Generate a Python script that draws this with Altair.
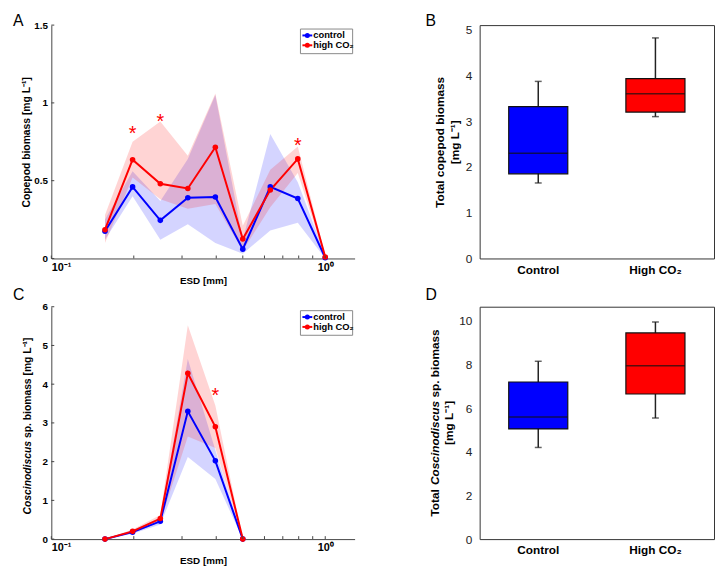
import altair as alt
import pandas as pd

FONT = "Liberation Sans"
BLUE = "#0000ff"
RED = "#ff0000"
AX = "#444444"

# ---------------- data ----------------
groups_line = ["control", "high CO₂"]
line_colors = [BLUE, RED]

esd_a = [0.157, 0.198, 0.25, 0.315, 0.397, 0.5, 0.63, 0.794, 1.0]
a_ctrl = [0.175, 0.46, 0.245, 0.39, 0.395, 0.06, 0.46, 0.385, 0.005]
a_ctrl_lo = [0.12, 0.40, 0.12, 0.22, 0.10, 0.03, 0.18, 0.23, 0.0]
a_ctrl_hi = [0.25, 0.56, 0.37, 0.64, 1.05, 0.12, 0.80, 0.49, 0.02]
a_high = [0.185, 0.635, 0.48, 0.45, 0.715, 0.125, 0.44, 0.64, 0.01]
a_high_lo = [0.10, 0.52, 0.38, 0.32, 0.35, 0.05, 0.33, 0.55, 0.0]
a_high_hi = [0.28, 0.75, 0.88, 0.66, 1.06, 0.21, 0.57, 0.72, 0.02]
a_star_x = [0.198, 0.25, 0.794]
a_star_y = [0.83, 0.91, 0.756]

esd_c = [0.157, 0.198, 0.25, 0.315, 0.397, 0.5]
c_ctrl = [0.0, 0.18, 0.46, 3.3, 2.02, 0.0]
c_ctrl_lo = [0.0, 0.14, 0.38, 2.12, 1.55, 0.0]
c_ctrl_hi = [0.0, 0.23, 0.55, 4.65, 2.3, 0.0]
c_high = [0.0, 0.2, 0.53, 4.28, 2.9, 0.0]
c_high_lo = [0.0, 0.16, 0.44, 2.65, 2.35, 0.0]
c_high_hi = [0.0, 0.25, 0.62, 5.52, 3.45, 0.0]
c_star_x = [0.397]
c_star_y = [3.81]

box_groups = ["Control", "High CO₂"]
b_lo = [1.65, 3.1]
b_q1 = [1.85, 3.2]
b_med = [2.3, 3.6]
b_q3 = [3.32, 3.93]
b_hi = [3.87, 4.82]

d_lo = [4.2, 5.55]
d_q1 = [5.05, 6.65]
d_med = [5.6, 7.95]
d_q3 = [7.2, 9.45]
d_hi = [8.15, 9.95]

x_minor_ticks = [0.1, 0.2, 0.3, 0.4, 0.5, 0.6, 0.7, 0.8, 0.9, 1.0]

LW, LH = 308, 237
C_H = 236
BW = 238


def one(txt=""):
    return alt.Chart(pd.DataFrame({"t": [txt]}))


def text_layer(txt, x, y, size, weight="normal", style="normal", angle=0,
               align="left", baseline="alphabetic", color="black"):
    return one(txt).mark_text(
        font=FONT, fontSize=size, fontWeight=weight, fontStyle=style,
        angle=angle, align=align, baseline=baseline, color=color
    ).encode(text="t:N", x=alt.value(x), y=alt.value(y))


def legend_layers():
    # legend box in the top-right corner of the panel
    lx0, lx1, ly0, ly1 = LW - 55, LW - 2, 4, 29
    out = [one().mark_rect(fill="white", stroke="#888", strokeWidth=1).encode(
        x=alt.value(lx0), x2=alt.value(lx1), y=alt.value(ly0), y2=alt.value(ly1))]
    for i, (g, col) in enumerate(zip(groups_line, line_colors)):
        yy = ly0 + 6.5 + i * 10
        out.append(one().mark_rule(color=col, strokeWidth=2).encode(
            x=alt.value(lx0 + 2), x2=alt.value(lx0 + 12), y=alt.value(yy)))
        out.append(one().mark_circle(color=col, size=26, opacity=1).encode(
            x=alt.value(lx0 + 7), y=alt.value(yy)))
        out.append(text_layer(g, lx0 + 13, yy, 9.5, "bold", baseline="middle"))
    return out


def line_panel(esd, ctrl, clo, chi, high, hlo, hhi, ymax, yticks, sx, sy,
               height, letter, letter_y, ytitle, extra=()):
    rows = []
    for i, e in enumerate(esd):
        rows.append(dict(esd=e, val=ctrl[i], lo=clo[i], hi=chi[i], grp=groups_line[0]))
    for i, e in enumerate(esd):
        rows.append(dict(esd=e, val=high[i], lo=hlo[i], hi=hhi[i], grp=groups_line[1]))
    df = pd.DataFrame(rows)
    xs = alt.Scale(type="log", domain=[0.1, 1.28], nice=False)
    ys = alt.Scale(domain=[0, ymax], nice=False, zero=True)
    cs = alt.Scale(domain=groups_line, range=line_colors)
    xaxis = alt.Axis(values=[0.1, 1.0], tickSize=0, grid=False, domainColor=AX,
                     labelExpr="datum.value < 0.5 ? '10⁻¹' : '10⁰'",
                     labelFontWeight="bold", labelFontSize=11, labelPadding=3,
                     labelColor="black", title="ESD [mm]", titleFontSize=10,
                     titleFontWeight="bold", titlePadding=3, titleColor="black")
    yaxis = alt.Axis(values=yticks, format="~g", tickSize=0, grid=False, domainColor=AX,
                     labelFontWeight="bold", labelFontSize=10, labelPadding=4,
                     labelOverlap=False, tickCount=len(yticks),
                     labelColor="black", title=ytitle, titleFontSize=10.5,
                     titleFontWeight="bold", titlePadding=2, titleColor="black")

    def X(f):
        return alt.X(f, scale=xs, axis=xaxis)

    def Y(f):
        return alt.Y(f, scale=ys, axis=yaxis)

    base = alt.Chart(df)
    area = base.mark_area(opacity=0.17).encode(
        x=X("esd:Q"), y=Y("lo:Q"), y2="hi:Q",
        color=alt.Color("grp:N", scale=cs, legend=None))
    line = base.mark_line(strokeWidth=2).encode(
        x=X("esd:Q"), y=Y("val:Q"), color=alt.Color("grp:N", scale=cs, legend=None))
    pts = base.mark_circle(size=32, opacity=1).encode(
        x=X("esd:Q"), y=Y("val:Q"), color=alt.Color("grp:N", scale=cs, legend=None))
    stars = alt.Chart(pd.DataFrame({"esd": sx, "sy": sy})).mark_text(
        text="*", color=RED, fontSize=20, font=FONT, baseline="middle", dy=5
    ).encode(x=X("esd:Q"), y=Y("sy:Q"))
    xt = alt.Chart(pd.DataFrame({"esd": x_minor_ticks})).mark_rule(color=AX).encode(
        x=X("esd:Q"), y=alt.value(height), y2=alt.value(height - 3))
    yt = alt.Chart(pd.DataFrame({"val": yticks})).mark_rule(color=AX).encode(
        y=Y("val:Q"), x=alt.value(0), x2=alt.value(3))
    layers = [area, line, pts, stars, xt, yt,
              text_layer(letter, -39, letter_y, 16, baseline="top")]
    layers += legend_layers()
    layers += list(extra)
    return alt.layer(*layers).properties(width=LW, height=height)


def box_panel(lo, q1, med, q3, hi, ymax, yticks, height, letter, letter_y, ytitle):
    df = pd.DataFrame({"grp": box_groups, "lo": lo, "q1": q1, "med": med,
                       "q3": q3, "hi": hi})
    xs = alt.Scale(paddingInner=0, paddingOuter=0)
    ys = alt.Scale(domain=[0, ymax], nice=False)
    xaxis = alt.Axis(title=None, labelAngle=0, tickSize=0, domain=False,
                     labelFontWeight="bold", labelFontSize=12,
                     labelPadding=6, labelColor="black")
    yaxis = alt.Axis(values=yticks, tickSize=0, domain=False, grid=False,
                     labelFontSize=12, labelColor="#222", labelPadding=8,
                     labelOverlap=False,
                     title=ytitle, titleFontSize=12, titleFontWeight="bold",
                     titleLineHeight=15, titlePadding=4, titleColor="black")

    def X():
        return alt.X("grp:N", sort=box_groups, scale=xs, axis=xaxis)

    def Y(f):
        return alt.Y(f, scale=ys, axis=yaxis)

    base = alt.Chart(df)
    whisk = base.mark_rule(color="#222", strokeWidth=1.5).encode(
        x=X(), y=Y("lo:Q"), y2="hi:Q")
    box = base.mark_bar(size=60, stroke="#111", strokeWidth=1.2, opacity=1).encode(
        x=X(), y=Y("q1:Q"), y2="q3:Q",
        color=alt.Color("grp:N", scale=alt.Scale(domain=box_groups, range=[BLUE, RED]),
                        legend=None))
    medl = base.mark_tick(size=60, thickness=1.5, color="#111").encode(x=X(), y=Y("med:Q"))
    cap_lo = base.mark_tick(size=7, thickness=1.5, color="#222").encode(x=X(), y=Y("lo:Q"))
    cap_hi = base.mark_tick(size=7, thickness=1.5, color="#222").encode(x=X(), y=Y("hi:Q"))
    return [whisk, box, medl, cap_lo, cap_hi,
            text_layer(letter, -55, letter_y, 16, baseline="top")]


A = line_panel(esd_a, a_ctrl, a_ctrl_lo, a_ctrl_hi, a_high, a_high_lo, a_high_hi,
               1.5, [0, 0.5, 1, 1.5], a_star_x, a_star_y, LH, "A", -12,
               "Copepod biomass [mg L⁻¹]")

# italic title pieces for C
c_mid = C_H / 2
c_bottom = c_mid + 93
c_title = [
    text_layer("Coscinodiscus", -24, c_bottom, 10.5, "bold", "italic", 270, "left", "middle"),
    text_layer("sp. biomass [mg L⁻¹]", -24, c_bottom - 77.6, 10.5, "bold", "normal", 270, "left", "middle"),
]
C = line_panel(esd_c, c_ctrl, c_ctrl_lo, c_ctrl_hi, c_high, c_high_lo, c_high_hi,
               6, [0, 1, 2, 3, 4, 5, 6], c_star_x, c_star_y, C_H, "C", -20, None, c_title)

B = alt.layer(*box_panel(b_lo, b_q1, b_med, b_q3, b_hi, 5.1, [0, 1, 2, 3, 4, 5], LH, "B", -12,
                         ["Total copepod biomass", "[mg L⁻¹]"])).properties(
    width=BW, height=LH, view=alt.ViewBackground(stroke="#333", strokeWidth=1))

d_layers = box_panel(d_lo, d_q1, d_med, d_q3, d_hi, 10.65, [0, 2, 4, 6, 8, 10], C_H, "D", -20, None)
d_mid = C_H / 2
d_bottom = d_mid + 95
d_layers += [
    text_layer("Total", -45, d_bottom, 12, "bold", "normal", 270, "left", "middle"),
    text_layer("Coscinodiscus", -45, d_bottom - 32.0, 12, "bold", "italic", 270, "left", "middle"),
    text_layer("sp. biomass", -45, d_bottom - 32.0 - 88.7, 12, "bold", "normal", 270, "left", "middle"),
    text_layer("[mg L⁻¹]", -31, d_mid, 12, "bold", "normal", 270, "center", "middle"),
]
D = alt.layer(*d_layers).properties(
    width=BW, height=C_H, view=alt.ViewBackground(stroke="#333", strokeWidth=1))

chart = alt.concat(A, B, C, D, columns=2, spacing={"row": 49, "column": 127},
                   bounds="flush").resolve_scale(color="independent").properties(
    padding={"left": 5, "top": 0, "right": 0, "bottom": 0}).configure_view(
    stroke=None).configure_axis(labelFont=FONT, titleFont=FONT).configure_text(font=FONT)

chart.save("out.html", embed_options={"renderer": "svg", "actions": False})
